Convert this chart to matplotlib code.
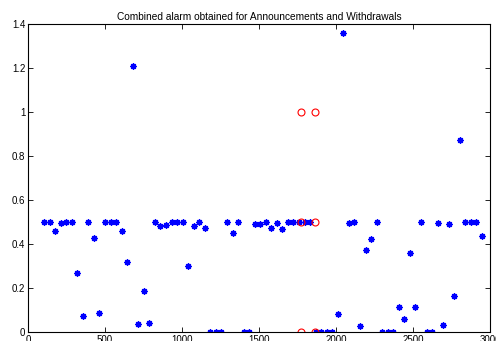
import numpy as np
import matplotlib
matplotlib.use("Agg")
import matplotlib.pyplot as plt

plt.rcParams['font.family'] = ['Liberation Sans', 'DejaVu Sans']

# alarm values (blue stars)
x_alarm = [104, 140, 176, 212, 248, 284, 320, 356, 392, 428,
           464, 500, 536, 572, 608, 644, 680, 716, 752, 788,
           824, 860, 896, 932, 968, 1004, 1040, 1076, 1112, 1148,
           1184, 1220, 1256, 1292, 1328, 1364, 1400, 1436, 1472, 1508,
           1544, 1580, 1616, 1652, 1688, 1724, 1760, 1796, 1832, 1868,
           1904, 1940, 1976, 2012, 2048, 2084, 2120, 2156, 2192, 2228,
           2264, 2300, 2336, 2372, 2408, 2444, 2480, 2516, 2552, 2588,
           2624, 2660, 2696, 2732, 2768, 2804, 2840, 2876, 2912, 2946]
y_alarm = [0.50, 0.50, 0.46, 0.495, 0.50, 0.50, 0.27, 0.074, 0.50, 0.428,
           0.085, 0.50, 0.50, 0.50, 0.46, 0.318, 1.21, 0.038, 0.187, 0.04,
           0.50, 0.483, 0.485, 0.50, 0.50, 0.50, 0.302, 0.483, 0.50, 0.475,
           0.0, 0.0, 0.0, 0.50, 0.451, 0.50, 0.0, 0.0, 0.492, 0.492,
           0.50, 0.472, 0.497, 0.467, 0.50, 0.50, 0.50, 0.50, 0.50, 0.0,
           0.0, 0.0, 0.0, 0.08, 1.36, 0.495, 0.50, 0.027, 0.375, 0.425,
           0.50, 0.0, 0.0, 0.0, 0.114, 0.057, 0.359, 0.114, 0.50, 0.0,
           0.0, 0.495, 0.03, 0.493, 0.164, 0.872, 0.50, 0.50, 0.50, 0.436]

# announcement / withdrawal markers (red circles)
x_events = [1775, 1775, 1775, 1865, 1865, 1865]
y_events = [0.0, 0.5, 1.0, 0.0, 0.5, 1.0]

fig = plt.figure(figsize=(4.96, 3.41), dpi=100)
ax = fig.add_axes([28/496, 9/341, 462/496, 308/341])

ax.plot(x_alarm, y_alarm, linestyle='none', marker=(8, 2, 0), color='blue',
        markersize=4.5, markeredgewidth=1.0)
ax.plot(x_events, y_events, linestyle='none', marker='o', markerfacecolor='none',
        markeredgecolor='red', markersize=5, markeredgewidth=0.8)

ax.set_xlim(0, 3000)
ax.set_ylim(0, 1.4)
ax.set_xticks([0, 500, 1000, 1500, 2000, 2500, 3000])
ax.set_yticks([0, 0.2, 0.4, 0.6, 0.8, 1, 1.2, 1.4])
ax.set_yticklabels(['0', '0.2', '0.4', '0.6', '0.8', '1', '1.2', '1.4'])
ax.tick_params(direction='in', length=3.5, width=0.6, top=True, right=True,
               labelsize=7, pad=2)
for s in ax.spines.values():
    s.set_linewidth(0.8)
ax.set_title('Combined alarm obtained for Announcements and Withdrawals',
             fontsize=7.3, pad=3)

fig.savefig('out.png', dpi=100)
